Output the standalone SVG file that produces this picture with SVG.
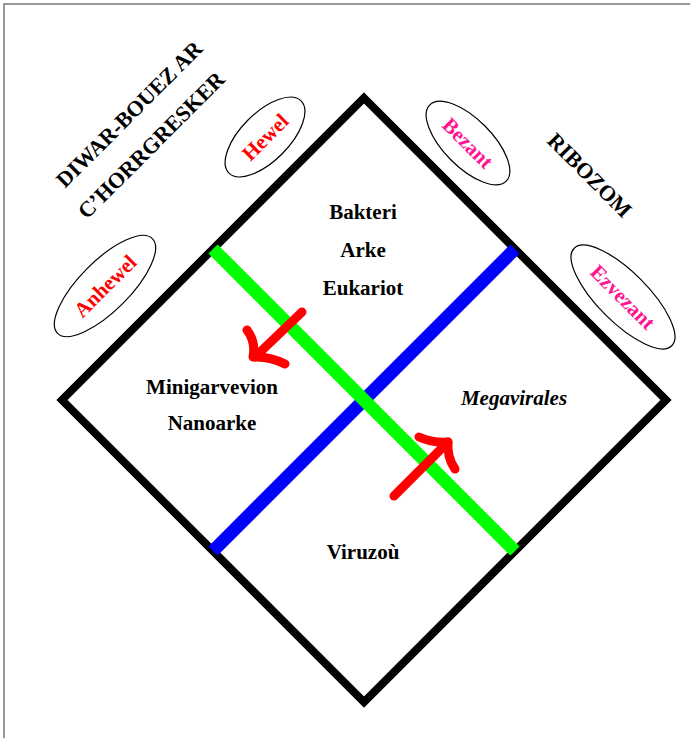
<svg xmlns="http://www.w3.org/2000/svg" width="690" height="738" viewBox="0 0 690 738">
<style>
.t{font-family:"Liberation Serif","Times New Roman",serif;font-weight:bold;text-anchor:middle;}
.c{font-size:21px;fill:#000;}
.k{font-size:22px;fill:#000;}
.e{font-size:21px;}
.ell{fill:none;stroke:#000;stroke-width:1.2;}
.arr{fill:none;stroke:#ff0000;stroke-width:9;stroke-linecap:round;stroke-linejoin:round;}
</style>
<rect x="4" y="4" width="720" height="760" fill="#fff" stroke="#777" stroke-width="1.5"/>
<g id="connectors">
<polygon points="364,98 666,400 364,702 62,400" fill="none" stroke="#000" stroke-width="8" stroke-linejoin="miter"/>
<line x1="515" y1="249" x2="213" y2="551" stroke="#0000ff" stroke-width="13"/>
<line x1="213" y1="249" x2="515" y2="551" stroke="#00ff00" stroke-width="13"/>
<g id="arrow1">
<path class="arr" d="M302,312 L255,357"/>
<path class="arr" d="M247,330 Q256,342 253,357 Q270,356 285,364"/>
</g>
<g id="arrow2">
<path class="arr" d="M394,496 L448,442"/>
<path class="arr" d="M419,437 Q432,443 448,442 Q447,458 455,469"/>
</g>
</g>
<g id="label-diwar"><text class="t k" transform="translate(129,114) rotate(-45)" dy="0.35em">DIWAR-BOUEZ AR</text></g>
<g id="label-horrgresker"><text class="t k" transform="translate(151,145) rotate(-45)" dy="0.35em">C’HORRGRESKER</text></g>
<g id="label-ribozom"><text class="t k" transform="translate(590,175) rotate(45)" dy="0.35em">RIBOZOM</text></g>
<g id="hewel"><ellipse class="ell" cx="0" cy="0" rx="51" ry="24" transform="translate(265,137) rotate(-45)"/><text class="t e" fill="#ff0000" transform="translate(265,137) rotate(-45)" dy="0.35em">Hewel</text></g>
<g id="bezant"><ellipse class="ell" cx="0" cy="0" rx="54" ry="24" transform="translate(468,143) rotate(45)"/><text class="t e" fill="#ff1493" transform="translate(468,143) rotate(45)" dy="0.35em">Bezant</text></g>
<g id="anhewel"><ellipse class="ell" cx="0" cy="0" rx="67" ry="25" transform="translate(105,286) rotate(-45)"/><text class="t e" fill="#ff0000" transform="translate(105,286) rotate(-45)" dy="0.35em">Anhewel</text></g>
<g id="ezvezant"><ellipse class="ell" cx="0" cy="0" rx="69" ry="25" transform="translate(623,297) rotate(45)"/><text class="t e" fill="#ff1493" transform="translate(623,297) rotate(45)" dy="0.35em">Ezvezant</text></g>
<g id="top-node"><text class="t c" x="363" y="219">Bakteri</text><text class="t c" x="363" y="257">Arke</text><text class="t c" x="363" y="295">Eukariot</text></g>
<g id="left-node"><text class="t c" x="212" y="394">Minigarvevion</text><text class="t c" x="212" y="430">Nanoarke</text></g>
<g id="right-node"><text class="t c" x="514" y="405" font-style="italic">Megavirales</text></g>
<g id="bottom-node"><text class="t c" x="363" y="559">Viruzoù</text></g>
</svg>
